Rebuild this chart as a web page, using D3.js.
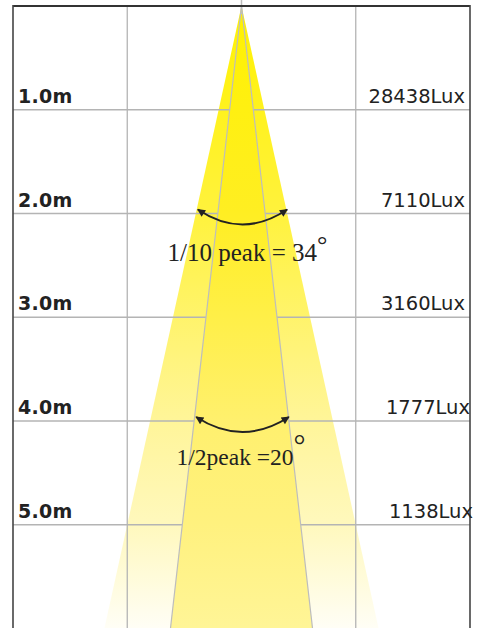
<!DOCTYPE html>
<html><head><meta charset="utf-8">
<script src="https://cdn.jsdelivr.net/npm/d3@7/dist/d3.min.js"></script>
<style>html,body{margin:0;padding:0;background:#fff;}svg{display:block;}</style>
</head><body>
<script>
// ---- data ----
const distances = [1, 2, 3, 4, 5];
const distanceLabels = ["1.0m", "2.0m", "3.0m", "4.0m", "5.0m"];
const luxValues = [28438, 7110, 3160, 1777, 1138];
const beamNames = ["1/10 peak = ", "1/2peak ="];
const beamAngles = [34, 20];
const beamArrowDepths = [2, 4];
const beamSpread = [0.22, 0.114]; // half-width (m) per metre of depth, as drawn
const gridX = [-1.1, 1.1];

// ---- layout ----
const W = 483, H = 628;
const luxNudge = [0, 0, 0, 5, 8];
const svg = d3.select("body").append("svg").attr("width", W).attr("height", H);
const y = d3.scaleLinear().domain([0, 6]).range([6, 628.5]);
const x = d3.scaleLinear().domain([-2.2, 2.2]).range([13, 470]);
const defs = svg.append("defs");

function grad(id, stops) {
  const g = defs.append("linearGradient").attr("id", id)
    .attr("gradientUnits", "userSpaceOnUse")
    .attr("x1", 0).attr("x2", 0).attr("y1", y(0)).attr("y2", y(6));
  stops.forEach(s => g.append("stop").attr("offset", s[0]).attr("stop-color", s[1]));
}
grad("gOuter", [[0, "#fff200"], [0.33, "#fff23c"], [0.67, "#fff59a"], [0.83, "#fff8bc"], [1, "#fffef6"]]);
grad("gInner", [[0, "#fff200"], [0.33, "#ffee22"], [0.67, "#fff06e"], [0.83, "#fff17e"], [1, "#fff597"]]);

function cone(r) {
  return [[x(0), y(0)], [x(-r * 6), y(6)], [x(r * 6), y(6)]];
}
const line = d3.line();

// outer cone (under grid)
svg.append("path").attr("d", line(cone(beamSpread[0])) + "Z").attr("fill", "url(#gOuter)");

// grid
svg.selectAll("line.h").data(distances).enter().append("line")
  .attr("x1", x(-2.2)).attr("x2", x(2.2)).attr("y1", d => y(d)).attr("y2", d => y(d))
  .attr("stroke", "#b4b4b4").attr("stroke-width", 1.3);
svg.selectAll("line.v").data(gridX).enter().append("line")
  .attr("x1", d => x(d)).attr("x2", d => x(d)).attr("y1", y(0)).attr("y2", H)
  .attr("stroke", "#b4b4b4").attr("stroke-width", 1.3);

// inner cone (over grid)
svg.append("path").attr("d", line(cone(beamSpread[1])) + "Z").attr("fill", "url(#gInner)");
const ic = cone(beamSpread[1]);
svg.append("path").attr("d", line([ic[1], ic[0], ic[2]])).attr("fill", "none")
  .attr("stroke", "#bdbdbd").attr("stroke-width", 1.2);
svg.append("line").attr("x1", x(0)).attr("x2", x(0)).attr("y1", 0).attr("y2", 14)
  .attr("stroke", "#bdbdbd").attr("stroke-width", 1.5);

// frame
svg.append("line").attr("x1", x(-2.2)).attr("x2", x(2.2)).attr("y1", y(0)).attr("y2", y(0))
  .attr("stroke", "#333").attr("stroke-width", 2);
[-2.2, 2.2].forEach(v => svg.append("line").attr("x1", x(v)).attr("x2", x(v))
  .attr("y1", y(0) - 1).attr("y2", H).attr("stroke", "#444").attr("stroke-width", 1.6));

// labels
svg.selectAll("text.dist").data(distances).enter().append("text")
  .attr("x", 18).attr("y", d => y(d) - 7)
  .attr("font-family", "DejaVu Sans").attr("font-weight", "bold").attr("font-size", 19)
  .attr("letter-spacing", 0.3)
  .attr("fill", "#222").text((d, i) => distanceLabels[i]);
svg.selectAll("text.lux").data(distances).enter().append("text")
  .attr("x", (d, i) => 465 + luxNudge[i]).attr("y", d => y(d) - 7)
  .attr("text-anchor", "end")
  .attr("font-family", "DejaVu Sans").attr("font-size", 19.5)
  .attr("fill", "#222").text((d, i) => luxValues[i] + "Lux");

// arrows
const mk = defs.append("marker").attr("id", "arr").attr("viewBox", "0 0 10 10")
  .attr("refX", 9).attr("refY", 5).attr("markerWidth", 10).attr("markerHeight", 8)
  .attr("markerUnits", "userSpaceOnUse").attr("orient", "auto-start-reverse");
mk.append("path").attr("d", "M0,0 L10,5 L0,10 Z").attr("fill", "#222");

beamArrowDepths.forEach((d, i) => {
  const r = beamSpread[i] * d;
  const yy = y(d) - 4;
  const x0 = x(-r) + 2, x1 = x(r);
  svg.append("path")
    .attr("d", `M${x0},${yy} Q${(x0 + x1) / 2},${yy + 30} ${x1},${yy}`)
    .attr("fill", "none").attr("stroke", "#222").attr("stroke-width", 2)
    .attr("marker-start", "url(#arr)").attr("marker-end", "url(#arr)");
});

// beam annotations
const annX = [x(0) - 74, x(0) - 65];
const annY = [261, 465];
const annSize = [25, 23.5];
const degSize = [26, 30];
const degDy = [-8, -10];
beamNames.forEach((n, i) => {
  const t = svg.append("text").attr("x", annX[i]).attr("y", annY[i])
    .attr("font-family", "Liberation Serif").attr("font-size", annSize[i]).attr("fill", "#222");
  t.append("tspan").text(n + beamAngles[i]);
  t.append("tspan").attr("font-size", degSize[i]).attr("dy", degDy[i]).attr("dx", 0).text("°");
});
</script>
</body></html>
